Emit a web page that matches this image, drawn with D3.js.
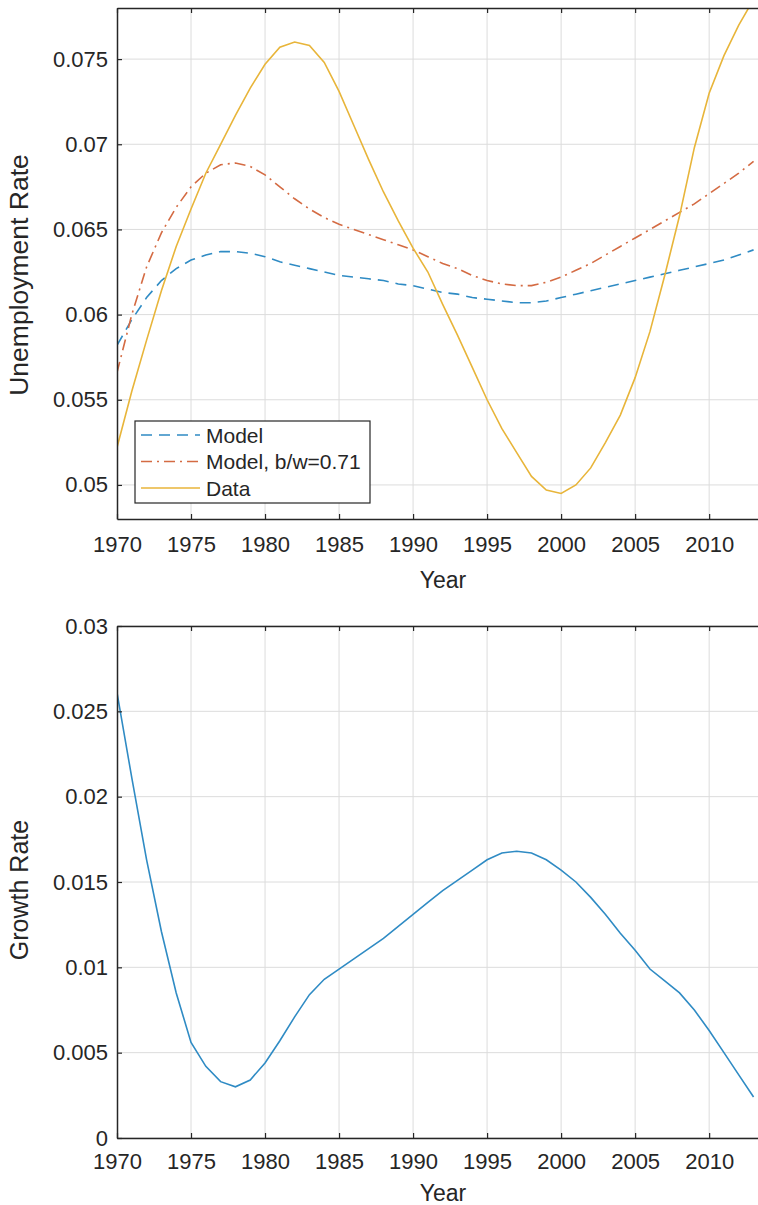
<!DOCTYPE html>
<html><head><meta charset="utf-8">
<script src="https://cdn.jsdelivr.net/npm/d3@7"></script>
<style>body{margin:0;background:#fff}svg{display:block}text{font-family:"Liberation Sans",Arial,sans-serif;fill:#262626}</style>
</head><body>
<script>
const years = d3.range(1970, 2014);
const modelU = [0.0582,0.0597,0.0610,0.0620,0.0627,0.0632,0.0635,0.0637,0.0637,0.0636,0.0634,0.0631,0.0629,0.0627,0.0625,0.0623,0.0622,0.0621,0.0620,0.0618,0.0617,0.0615,0.0613,0.0612,0.0610,0.0609,0.0608,0.0607,0.0607,0.0608,0.0610,0.0612,0.0614,0.0616,0.0618,0.0620,0.0622,0.0624,0.0626,0.0628,0.0630,0.0632,0.0635,0.0638];
const modelBW = [0.0566,0.0600,0.0628,0.0648,0.0663,0.0675,0.0683,0.0688,0.0689,0.0687,0.0682,0.0675,0.0668,0.0662,0.0657,0.0653,0.0650,0.0647,0.0644,0.0641,0.0638,0.0634,0.0630,0.0627,0.0623,0.0620,0.0618,0.0617,0.0617,0.0619,0.0622,0.0626,0.0630,0.0635,0.0640,0.0645,0.0650,0.0655,0.0660,0.0665,0.0671,0.0677,0.0683,0.0690];
const dataU = [0.0522,0.0555,0.0585,0.0614,0.0640,0.0662,0.0683,0.0700,0.0717,0.0733,0.0747,0.0757,0.0760,0.0758,0.0748,0.0731,0.0711,0.0691,0.0672,0.0655,0.0639,0.0625,0.0606,0.0588,0.0569,0.0550,0.0533,0.0519,0.0505,0.0497,0.0495,0.0500,0.0510,0.0525,0.0541,0.0563,0.0590,0.0623,0.0658,0.0698,0.0730,0.0752,0.0770,0.0785];
const growth = [0.0261,0.0211,0.0163,0.0121,0.0085,0.0056,0.0042,0.0033,0.0030,0.0034,0.0044,0.0057,0.0071,0.0084,0.0093,0.0099,0.0105,0.0111,0.0117,0.0124,0.0131,0.0138,0.0145,0.0151,0.0157,0.0163,0.0167,0.0168,0.0167,0.0163,0.0157,0.0150,0.0141,0.0131,0.0120,0.0110,0.0099,0.0092,0.0085,0.0075,0.0063,0.0050,0.0037,0.0024];
const xTicks = [1970,1975,1980,1985,1990,1995,2000,2005,2010];
const yTicksTop = [0.05,0.055,0.06,0.065,0.07,0.075];
const yTicksBottom = [0,0.005,0.01,0.015,0.02,0.025,0.03];
const seriesNames = ["Model","Model, b/w=0.71","Data"];

const W = 758, H = 1205;
const svg = d3.select("body").append("svg").attr("width", W).attr("height", H);
const colors = ["#2f8bc4","#d46b43","#e8b53a"];
const dashes = ["11,7","11,5,2,5",null];

function panel(top, bottom, yDomain, yTicks, yFmt, ylabel, labelCenter, labelSize, yearOffset, series) {
  const x = d3.scaleLinear().domain([1970, 2013.3]).range([117, 758]);
  const y = d3.scaleLinear().domain(yDomain).range([bottom, top]);
  const g = svg.append("g");
  const clipId = "clip" + top;
  svg.append("clipPath").attr("id", clipId).append("rect")
    .attr("x", 117).attr("y", top).attr("width", 758 - 117).attr("height", bottom - top);
  g.selectAll(".gx").data(xTicks.slice(1)).join("line")
    .attr("x1", d => x(d)).attr("x2", d => x(d)).attr("y1", top).attr("y2", bottom)
    .attr("stroke", "#dcdcdc").attr("stroke-width", 1);
  g.selectAll(".gy").data(yTicks).join("line")
    .attr("x1", 117).attr("x2", 758).attr("y1", d => y(d)).attr("y2", d => y(d))
    .attr("stroke", "#dcdcdc").attr("stroke-width", 1);
  const line = d3.line().x((d, i) => x(years[i])).y(d => y(d));
  series.forEach(s => {
    g.append("path").datum(s.values).attr("d", line).attr("fill", "none")
      .attr("stroke", s.color).attr("stroke-width", 1.6)
      .attr("stroke-dasharray", s.dash).attr("clip-path", `url(#${clipId})`);
  });
  const xAxis = d3.axisBottom(x).tickValues(xTicks).tickSizeInner(-5).tickSizeOuter(0).tickPadding(yearOffset.pad).tickFormat(d3.format("d"));
  const ax = g.append("g").attr("transform", `translate(0,${bottom})`).call(xAxis);
  const xTop = d3.axisTop(x).tickValues(xTicks).tickSizeInner(-5).tickSizeOuter(0).tickFormat("");
  const axT = g.append("g").attr("transform", `translate(0,${top})`).call(xTop);
  const yAxis = d3.axisLeft(y).tickValues(yTicks).tickSizeInner(-5).tickSizeOuter(0).tickPadding(9).tickFormat(yFmt);
  const ay = g.append("g").attr("transform", `translate(117,0)`).call(yAxis);
  [ax, axT, ay].forEach(a => {
    a.select(".domain").attr("stroke", "#262626").attr("stroke-width", 1.5);
    a.selectAll(".tick line").attr("stroke", "#262626").attr("stroke-width", 1.2);
    a.selectAll("text").attr("font-size", 22).attr("fill", "#262626").attr("font-family", '"Liberation Sans", Arial, sans-serif');
  });
  g.append("text").attr("x", 443).attr("y", bottom + yearOffset.title).attr("text-anchor", "middle").attr("font-size", 23).text("Year");
  g.append("text").attr("transform", `translate(28,${labelCenter}) rotate(-90)`)
    .attr("text-anchor", "middle").attr("font-size", labelSize).text(ylabel);
  return {x, y};
}

const yfmt = d => d === 0 ? "0" : String(+d.toFixed(3));
panel(8, 519, [0.048, 0.078], yTicksTop, yfmt, "Unemployment Rate", 275, 26.5, {pad: 17, title: 69}, [
  {values: modelU, color: colors[0], dash: dashes[0]},
  {values: modelBW, color: colors[1], dash: dashes[1]},
  {values: dataU, color: colors[2], dash: dashes[2]}
]);
panel(626, 1138, [0, 0.03], yTicksBottom, yfmt, "Growth Rate", 890, 25, {pad: 15, title: 63}, [
  {values: growth, color: colors[0], dash: null}
]);

const lg = svg.append("g");
lg.append("rect").attr("x", 135).attr("y", 421).attr("width", 235).attr("height", 82)
  .attr("fill", "#fff").attr("stroke", "#262626").attr("stroke-width", 1.2);
seriesNames.forEach((n, i) => {
  const yy = 435 + i * 26.5;
  lg.append("line").attr("x1", 141).attr("x2", 200).attr("y1", yy).attr("y2", yy)
    .attr("stroke", colors[i]).attr("stroke-width", 1.6).attr("stroke-dasharray", dashes[i]);
  lg.append("text").attr("x", 206).attr("y", yy + 7.5).attr("font-size", 21).text(n);
});
</script>
</body></html>
